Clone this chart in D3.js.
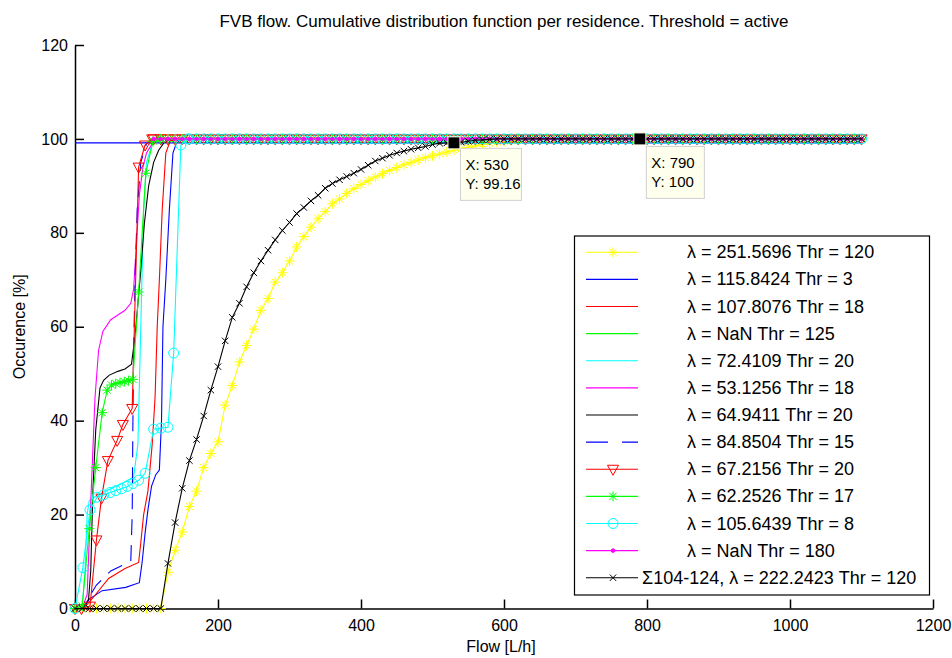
<!DOCTYPE html>
<html><head><meta charset="utf-8">
<script src="https://cdnjs.cloudflare.com/ajax/libs/d3/7.8.5/d3.min.js"></script>
<style>
body{margin:0;background:#fff}
svg{display:block}
text{font-family:"Liberation Sans",Arial,sans-serif;fill:#000}
</style>
</head><body>
<svg id="chart" width="952" height="658"></svg>
<script>
// ---------- data ----------
const titleText = "FVB flow. Cumulative distribution function per residence. Threshold = active";
const xLabel = "Flow [L/h]";
const yLabel = "Occurence [%]";
const xTicks = [0, 200, 400, 600, 800, 1000, 1200];
const yTicks = [0, 20, 40, 60, 80, 100, 120];

const flowStep = 10;        // sampling step of the flow grid
const lastFlow = 1100;      // last flow sample
const plateauLevel = 100;   // all CDFs end at 100 %

// series sampled on the regular flow grid (x = 0, 10, 20, ...)
const yellowStarY = [0,0,0,0,0,0,0,0,0,0,0,0,0,
  7.7,12.4,16.3,21.7,25,30,33,35.5,43.3,47.5,52.5,56,59.5,63.5,66,69.5,71.5,74,77,79.2,81.2,83,84.5,
  86.2,87.2,88.4,89.4,90.3,91.1,91.9,92.6,93.3,93.9,94.5,95,95.5,96,96.4,96.8,97.2,97.6,97.9,98.2,
  98.5,98.8,99.1,99.3,99.5,99.6,99.7,99.8,99.9,100];
const sigmaCrossY = [0,0,0,0,0,0,0,0,0,0,0,0,0,
  9.6,18.3,25.6,31.5,36,41,46.5,51.5,57,62,65,68.5,71.5,74,76.3,78.5,80.5,82.2,84.1,85.4,86.8,88,
  89.5,90.5,91.3,92,92.7,93.5,94.4,95.3,95.9,96.5,97,97.4,97.8,98.1,98.4,98.8,99.1,99.13,99.16,
  99.3,99.5,99.7,99.8,99.9,100];

// series with irregular flow samples: [flow, occurence]
const blueSolid = [[0,0],[12,0],[20,2],[38,3.8],[71,4.5],[90,5.5],[94,10],[98,16],[102,21],[107,26],[113,28.5],[118,29.5],[121,40],[123,60],[127,70],[132,85],[137,97],[142,99.2],[150,100]];
const redSolid = [[0,0],[12,0],[22,1.7],[47,6.4],[70,8.5],[89,9.8],[92,14],[96,20],[102,25],[108,35],[112,45],[115,60],[118,70],[122,85],[127,97],[133,99.5],[140,100]];
const greenSolid = [[110,100]];
const cyanSolid = [[0,0],[10,0],[14,8],[17,20],[20,23],[30,24],[50,25.5],[70,27],[82,28],[88,35],[92,60],[96,85],[100,95],[108,99],[118,100]];
const magentaSolid = [[0,0],[10,0],[17,3],[20,15],[24,30],[28,45],[33,55],[39,59],[50,61.5],[60,62.5],[70,63.5],[78,65],[82,68],[86,78],[90,88],[95,94],[100,97],[108,99],[115,100]];
const blackSolid = [[0,0],[12,0],[19,2],[22,8],[25,25],[29,38],[35,47],[40,48.6],[48,49.7],[60,50.5],[70,51],[79,52],[84,58],[88,65],[92,72],[97,82],[103,90],[110,95],[117,97.6],[125,99.3],[135,100]];
const blueDashed = [[0,0],[12,0],[18,2],[30,5],[50,8],[78,10],[80,20],[81,40],[82,55],[84,70],[87,85],[92,95],[100,99],[110,100]];
const redTriangle = [[0,0],[9,0],[21,0.5],[30,14.6],[37,23.5],[46,31.5],[59,35.8],[67,39.2],[80,42.6],[89,94],[98,98.7],[108,100]];
const greenStar = [[0,0],[10,0.5],[20,17],[29,30],[38,41.7],[45,46.5],[51,47.6],[57,47.9],[63,48.1],[69,48.3],[75,48.5],[81,48.8],[89,67.4],[99,92.7],[109,99.5],[119,100]];
const cyanCircle = [[0,0],[11,8.7],[21,21],[31,23.7],[40,24.2],[49,24.7],[57,25.1],[65,25.5],[73,26],[81,26.6],[89,27.3],[98,28.8],[110,38.2],[120,38.4],[130,38.6],[138,54.4],[148,98.7],[158,100]];
const magentaDot = [[110,100]];

const referenceLevel = 99.16;   // blue horizontal line

const legendLabels = [
  "λ = 251.5696 Thr = 120", "λ = 115.8424 Thr = 3", "λ = 107.8076 Thr = 18", "λ = NaN Thr = 125",
  "λ = 72.4109 Thr = 20", "λ = 53.1256 Thr = 18", "λ = 64.9411 Thr = 20", "λ = 84.8504 Thr = 15",
  "λ = 67.2156 Thr = 20", "λ = 62.2526 Thr = 17", "λ = 105.6439 Thr = 8", "λ = NaN Thr = 180",
  "Σ104-124, λ = 222.2423 Thr = 120"];
const seriesColors = ["#ffff00","#0000ff","#ff0000","#00ff00","#00ffff","#ff00ff","#000000","#0000ff","#ff0000","#00ff00","#00ffff","#ff00ff","#000000"];
const seriesMarkers = ["star","none","none","none","none","none","none","none","tri","star","circle","dot","cross"];
const seriesDash = [null,null,null,null,null,null,null,"16,10",null,null,null,null,null];

const dataTips = [{x:530, y:99.16}, {x:790, y:100}];

// ---------- build series ----------
function grid(ys){ return ys.map((v,i)=>[i*flowStep, v]); }
function extend(points){
  const out = points.slice();
  const last = out[out.length-1][0];
  for(let x = Math.ceil((last+1)/flowStep)*flowStep; x <= lastFlow; x += flowStep) out.push([x, plateauLevel]);
  return out;
}
const seriesData = [
  grid(yellowStarY), blueSolid, redSolid, greenSolid, cyanSolid, magentaSolid, blackSolid, blueDashed,
  redTriangle, greenStar, cyanCircle, magentaDot, grid(sigmaCrossY)
].map(extend);

// ---------- drawing ----------
const svg = d3.select("#chart");
const W = 952, H = 658;
const m = {left:75, right:19, top:45, bottom:49.5};
const x = d3.scaleLinear().domain([0,1200]).range([m.left, W-m.right]);
const y = d3.scaleLinear().domain([0,120]).range([H-m.bottom, m.top]);

svg.append("rect").attr("width",W).attr("height",H).attr("fill","#fff");

// title / labels
svg.append("text").attr("x",(x(0)+x(1200))/2).attr("y",27).attr("text-anchor","middle")
  .style("font-size","17px").text(titleText);
svg.append("text").attr("x",(x(0)+x(1200))/2 - 3).attr("y",652).attr("text-anchor","middle")
  .style("font-size","16px").text(xLabel);
svg.append("text").attr("transform",`translate(25,${(y(0)+y(120))/2}) rotate(-90)`).attr("text-anchor","middle")
  .style("font-size","16px").text(yLabel);

// axes
const gx = svg.append("g").attr("transform",`translate(0,${y(0)})`)
  .call(d3.axisBottom(x).tickValues(xTicks).tickFormat(d3.format("d")).tickSizeInner(-9).tickSizeOuter(0).tickPadding(11));
const gy = svg.append("g").attr("transform",`translate(${x(0)},0)`)
  .call(d3.axisLeft(y).tickValues(yTicks).tickFormat(d3.format("d")).tickSizeInner(-9).tickSizeOuter(0).tickPadding(7));
[gx,gy].forEach(g=>{
  g.selectAll("path.domain").attr("stroke","#000").attr("stroke-width",1.5);
  g.selectAll(".tick line").attr("stroke","#000").attr("stroke-width",1.5);
  g.selectAll(".tick text").style("font-size","16px").style("font-family","'Liberation Sans',Arial,sans-serif").attr("fill","#000");
});

// markers
function markerPath(type){
  const r = 5;
  if(type==="star"){
    const d = r*0.72;
    return `M${-r},0L${r},0M0,${-r}L0,${r}M${-d},${-d}L${d},${d}M${-d},${d}L${d},${-d}`;
  }
  if(type==="cross"){ const d=3.2; return `M${-d},${-d}L${d},${d}M${-d},${d}L${d},${-d}`; }
  if(type==="tri"){ return `M${-5.5},${-4}L${5.5},${-4}L0,${6}Z`; }
  if(type==="circle"){ return d3.symbol(d3.symbolCircle, Math.PI*25)(); }
  if(type==="dot"){ return d3.symbol(d3.symbolCircle, Math.PI*3.2)(); }
  return null;
}
function drawMarker(g, type, color, cx, cy){
  const p = markerPath(type); if(!p) return;
  const el = g.append("path").attr("d",p).attr("transform",`translate(${cx},${cy})`)
    .attr("stroke",color).attr("stroke-width",1);
  if(type==="dot") el.attr("fill",color); else el.attr("fill","none");
}

const plot = svg.append("g");
// horizontal blue reference line
plot.append("line").attr("x1",x(0)).attr("x2",x(lastFlow)).attr("y1",y(referenceLevel)).attr("y2",y(referenceLevel))
  .attr("stroke","#0000ff").attr("stroke-width",1.2);

const line = d3.line().x(d=>x(d[0])).y(d=>y(d[1]));
seriesData.forEach((pts,i)=>{
  const g = plot.append("g");
  g.append("path").attr("d",line(pts)).attr("fill","none").attr("stroke",seriesColors[i])
    .attr("stroke-width",1.1).attr("stroke-dasharray",seriesDash[i]);
  if(seriesMarkers[i]!=="none") pts.forEach(p=>drawMarker(g, seriesMarkers[i], seriesColors[i], x(p[0]), y(p[1])));
});

// data tips
dataTips.forEach((t,k)=>{
  const cx = x(t.x), cy = y(t.y);
  const bx = cx+6.5, by = cy+(k===0?5.5:7.5);
  const bw = k===0?61:58, bh = 52;
  svg.append("rect").attr("x",bx).attr("y",by).attr("width",bw).attr("height",bh)
    .attr("fill","#ffffee").attr("stroke","#d0d0d0").attr("stroke-width",1);
  svg.append("text").attr("x",bx+5).attr("y",by+22).style("font-size","15px").text("X: "+t.x);
  svg.append("text").attr("x",bx+5).attr("y",by+41).style("font-size","15px").text("Y: "+t.y);
  svg.append("rect").attr("x",cx-6).attr("y",cy-6).attr("width",12).attr("height",12)
    .attr("fill","#000").attr("stroke","#ffffee").attr("stroke-width",1);
});

// legend
const lg = svg.append("g");
lg.append("rect").attr("x",574.5).attr("y",236).attr("width",355).attr("height",359)
  .attr("fill","#fff").attr("stroke","#000").attr("stroke-width",1.2);
legendLabels.forEach((lab,i)=>{
  const ly = 252.3 + i*27.12;
  lg.append("line").attr("x1",586).attr("x2",638).attr("y1",ly).attr("y2",ly)
    .attr("stroke",seriesColors[i]).attr("stroke-width",1.1).attr("stroke-dasharray",seriesDash[i]?"22,14":null);
  drawMarker(lg, seriesMarkers[i], seriesColors[i], 613, ly);
  lg.append("text").attr("x", i===12?642:687).attr("y",ly+6).style("font-size","18px").text(lab);
});
</script>
</body></html>
